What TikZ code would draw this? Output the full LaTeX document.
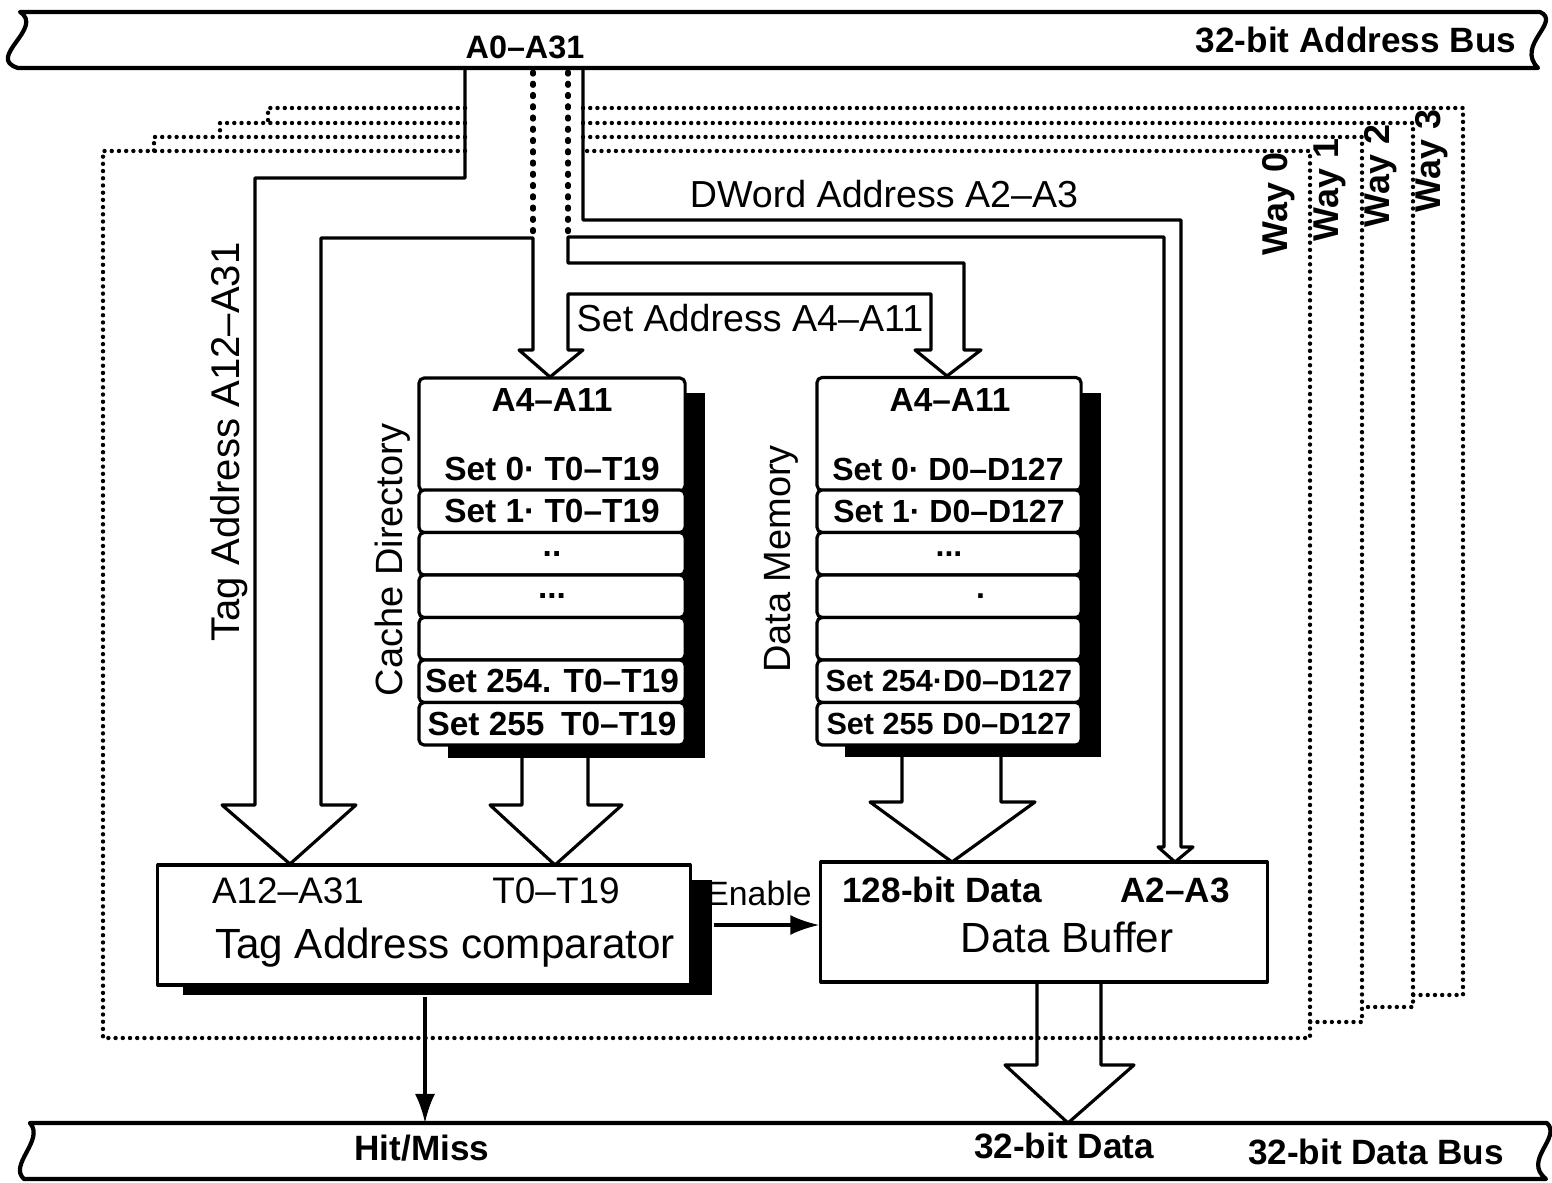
\documentclass[tikz,border=0pt]{standalone}
\usepackage{fontspec}
\setmainfont{Liberation Sans}
\usetikzlibrary{arrows.meta}

\begin{document}
\begin{tikzpicture}[x=0.01cm, y=-0.01cm, line width=0.9pt, line join=round,
    bus/.style={line width=1.2pt},
    wayline/.style={line width=1.25pt, line cap=round, dash pattern=on 0pt off 2.05pt},
    feedline/.style={line width=1.45pt, line cap=round, dash pattern=on 0.6pt off 2.6pt},
    sigarrow/.style={-{Latex[length=2.9mm, width=2mm]}},
    shade/.style={fill=black, inner sep=0pt},
    rowbox/.style={draw, fill=white, rounded corners=1.5pt, inner sep=0pt, minimum width=2.66cm, minimum height=0.425cm, font=\bfseries\fontsize{9.5}{11}\selectfont},
    dmrow/.style={rowbox, minimum width=2.64cm, font=\bfseries\fontsize{9.1}{11}\selectfont},
    hdr/.style={inner sep=0pt, font=\bfseries\fontsize{9.5}{11}\selectfont},
    unitbox/.style={draw, fill=white, inner sep=0pt, minimum height=1.2cm},
    txt/.style={inner sep=0pt, font=\fontsize{10.7}{12}\selectfont},
    bigtxt/.style={inner sep=0pt, font=\fontsize{12}{14}\selectfont},
    btxt/.style={inner sep=0pt, font=\bfseries\fontsize{10}{12}\selectfont},
    waytxt/.style={rotate=90, inner sep=0pt, font=\bfseries\fontsize{10.2}{12}\selectfont}]
  \useasboundingbox (0,0) rectangle (1552,1183);

  % four ways
  \draw[wayline] (465,151) -- (103,151) -- (103,1038) -- (1310,1038) -- (1310,151) -- (583,151);
  \draw[wayline] (465,137) -- (154,137) -- (154,151);
  \draw[wayline] (583,137) -- (1362,137) -- (1362,1022) -- (1310,1022);
  \draw[wayline] (465,123) -- (220,123) -- (220,137);
  \draw[wayline] (583,123) -- (1413,123) -- (1413,1007) -- (1362,1007);
  \draw[wayline] (465,108) -- (268,108) -- (268,123);
  \draw[wayline] (583,108) -- (1463,108) -- (1463,995) -- (1413,995);

  % buses
  \draw[bus] (20,12) -- (1540,12) .. controls (1562,22) and (1515,45) .. (1538,68) -- (18,68) .. controls (-15,58) and (45,28) .. (20,12) -- cycle;
  \draw[bus] (30,1123) -- (1547,1123) .. controls (1562,1138) and (1522,1160) .. (1546,1179) -- (24,1179) .. controls (8,1165) and (45,1140) .. (30,1123) -- cycle;

  % address lines
  \draw[feedline] (533,72) -- (533,236);
  \draw[feedline] (568,72) -- (568,235);
  \draw (465,68) -- (465,178) -- (255,178) -- (255,805) -- (222,805) -- (290,864) -- (356,805) -- (321,805) -- (321,238) -- (533,238) -- (533,350) -- (519,350) -- (550,377) -- (583,350) -- (568,350) -- (568,294) -- (931,294) -- (931,350) -- (915,350) -- (947,376) -- (981,350) -- (964,350) -- (964,263) -- (568,263) -- (568,237) -- (1164,237) -- (1164,847) -- (1158,847) -- (1175,862) -- (1193,847) -- (1181,847) -- (1181,220) -- (583,220) -- (583,68);

  % cache directory
  \node[shade, minimum width=2.57cm, minimum height=3.65cm] (cdsh) at (576.5,575.5) {};
  \node[rowbox, minimum height=1.13cm] (cd0) at (552,434.5) {};
  \node[hdr] (cdhead) at (552,400) {A4--A11};
  \node[hdr] (cdset0) at (552,469) {Set 0· T0--T19};
  \node[rowbox] (cd1) at (552,511.25) {Set 1· T0--T19};
  \node[rowbox] (cd2) at (552,553.75) {..};
  \node[rowbox] (cd3) at (552,596.25) {...};
  \node[rowbox] (cd4) at (552,638.75) {};
  \node[rowbox] (cd5) at (552,681.25) {Set 254. T0--T19};
  \node[rowbox] (cd6) at (552,723.75) {Set 255\enspace T0--T19};

  % data memory
  \node[shade, minimum width=2.56cm, minimum height=3.64cm] (dmsh) at (973,575) {};
  \node[dmrow, minimum height=1.13cm] (dm0) at (949,434) {};
  \node[hdr] (dmhead) at (950,400) {A4--A11};
  \node[hdr, font=\bfseries\fontsize{9.1}{11}\selectfont] (dmset0) at (948,469) {Set 0· D0--D127};
  \node[dmrow] (dm1) at (949,511.25) {Set 1· D0--D127};
  \node[dmrow] (dm2) at (949,553.75) {...};
  \node[dmrow] (dm3) at (949,596.25) {\hspace{18pt}.};
  \node[dmrow] (dm4) at (949,638.75) {};
  \node[dmrow, font=\bfseries\fontsize{8.7}{11}\selectfont] (dm5) at (949,681.25) {Set 254·D0--D127};
  \node[dmrow, font=\bfseries\fontsize{8.7}{11}\selectfont] (dm6) at (949,723.75) {Set 255 D0--D127};

  \draw (522,758) -- (522,805) -- (490,805) -- (555,865) -- (622,805) -- (588,805) -- (588,758);
  \draw (902,757) -- (902,802) -- (870,802) -- (952,862) -- (1035,802) -- (1001,802) -- (1001,757);

  % comparator and buffer
  \node[shade, minimum width=5.29cm, minimum height=1.15cm] (cmpsh) at (447.5,937.5) {};
  \node[unitbox, minimum width=5.32cm] (cmp) at (424,925) {};
  \node[txt, font=\fontsize{10.5}{12}\selectfont] (cmptag) at (288,891) {A12--A31};
  \node[txt, font=\fontsize{10.5}{12}\selectfont] (cmpt) at (556,891) {T0--T19};
  \node[bigtxt] (cmpname) at (445,948) {Tag Address comparator};
  \node[unitbox, minimum width=4.46cm] (buf) at (1044,922) {};
  \node[btxt] (bufdata) at (942,890) {128-bit Data};
  \node[btxt] (bufaddr) at (1175,890) {A2--A3};
  \node[bigtxt] (bufname) at (1067,937) {Data Buffer};

  \coordinate (hmtip) at (425,1123);
  \draw[sigarrow] (cmpsh.south -| hmtip) -- (hmtip);
  \draw[sigarrow] (cmpsh.east |- cmp.center) -- (buf.west |- cmp.center);
  \node[txt, font=\fontsize{9.6}{12}\selectfont] (enable) at (759,893) {Enable};
  \draw (1037,982) -- (1037,1065) -- (1005,1065) -- (1068,1123) -- (1134,1065) -- (1101,1065) -- (1101,982);

  % labels
  \node[btxt, font=\bfseries\fontsize{9.2}{11}\selectfont] (a031) at (525,47) {A0--A31};
  \node[btxt] (abus) at (1356,40) {32-bit Address Bus};
  \node[btxt] (hm) at (422,1148) {Hit/Miss};
  \node[btxt] (d32) at (1064,1146) {32-bit Data};
  \node[btxt] (dbus) at (1376,1152) {32-bit Data Bus};
  \node[txt] (dword) at (884,194) {DWord Address A2--A3};
  \node[txt] (setaddr) at (750,318) {Set Address A4--A11};
  \node[txt, rotate=90, font=\fontsize{11.4}{13}\selectfont] (tagaddr) at (229,442) {Tag Address A12--A31};
  \node[txt, rotate=90, font=\fontsize{10.8}{13}\selectfont] (cdname) at (393,560) {Cache Directory};
  \node[txt, rotate=90, font=\fontsize{10.8}{13}\selectfont] (dmname) at (781,559) {Data Memory};
  \node[waytxt] (w0) at (1279,204) {Way 0};
  \node[waytxt] (w1) at (1330,190) {Way 1};
  \node[waytxt] (w2) at (1381,176) {Way 2};
  \node[waytxt] (w3) at (1432,161) {Way 3};
\end{tikzpicture}
\end{document}
